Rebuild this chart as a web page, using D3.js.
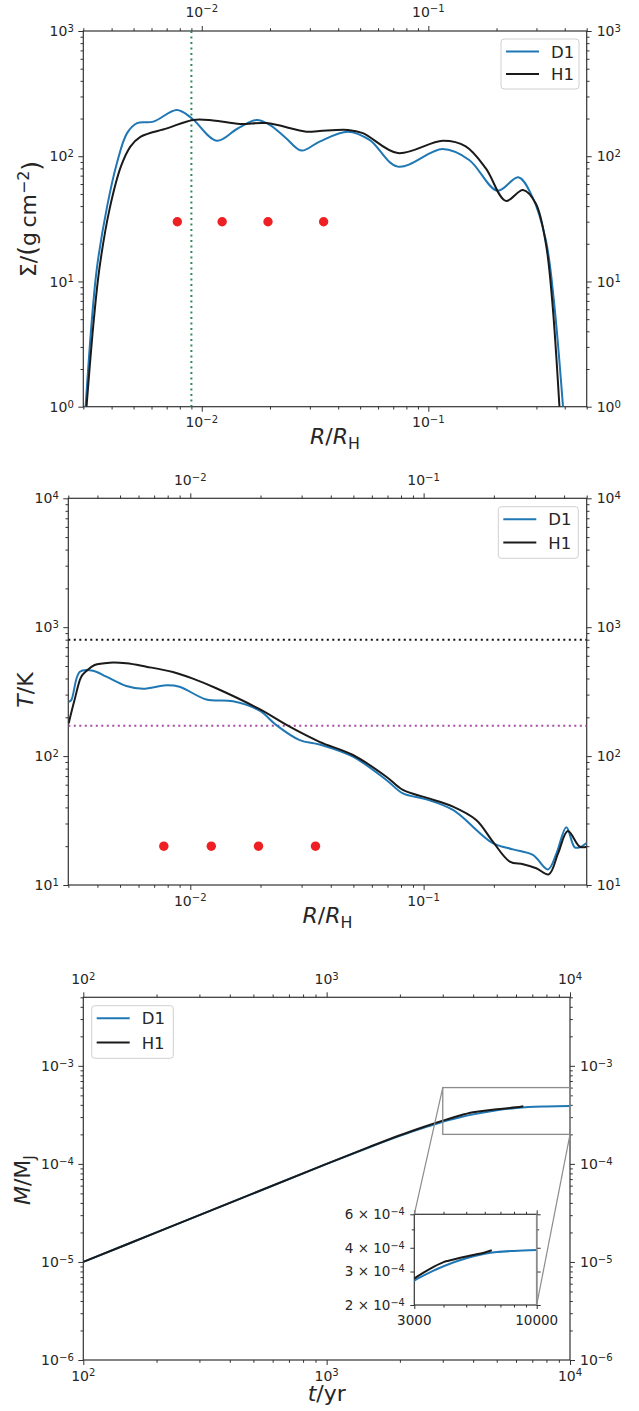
<!DOCTYPE html>
<html>
<head>
<meta charset="utf-8">
<script src="https://cdn.jsdelivr.net/npm/d3@7"></script>
<style>
  body { margin: 0; background: #fff; }
  svg { display: block; }
  text { font-family: "DejaVu Sans", sans-serif; fill: #262626; }
  .tick line { stroke: #333; }
  .domain { display: none; }
</style>
</head>
<body>
<svg id="fig" width="639" height="1411"></svg>
<script>
// ---- data ----

// surface density, R/R_H vs Sigma
const sigR_D1 = [0.00307, 0.00328, 0.00345, 0.00382, 0.00422, 0.00468, 0.00518, 0.00612, 0.00776, 0.00903, 0.01164, 0.0143, 0.01746, 0.01995, 0.0235, 0.02754, 0.0331, 0.0442, 0.055, 0.0733, 0.1157, 0.1514, 0.2018, 0.2495, 0.2875, 0.330, 0.358, 0.393];
const sig_D1  = [1, 5.2, 13.1, 39.6, 88, 153, 184, 189, 234, 201, 133, 165, 195, 178, 140, 111, 131, 157, 135, 82.6, 114, 93.4, 53, 68, 47.6, 21.4, 7.1, 1];
const sigR_H1 = [0.0031, 0.00334, 0.00354, 0.00392, 0.00441, 0.00485, 0.00536, 0.00702, 0.00918, 0.01124, 0.01475, 0.01931, 0.02899, 0.0331, 0.0442, 0.0514, 0.0733, 0.1157, 0.1462, 0.1794, 0.2198, 0.2618, 0.298, 0.330, 0.352, 0.379];
const sig_H1  = [1, 5, 13, 38, 84, 120, 143, 167, 195, 193, 181, 184, 157, 159, 162, 153, 106, 133, 120, 80, 44, 53.8, 42, 20.2, 7.1, 1];

// temperature, R/R_H vs T
const tR_D1 = [0.00301, 0.00309, 0.00336, 0.00383, 0.00437, 0.00532, 0.00627, 0.00789, 0.00899, 0.01172, 0.01524, 0.01982, 0.02337, 0.02944, 0.0358, 0.0498, 0.0692, 0.0815, 0.1027, 0.1336, 0.198, 0.2415, 0.294, 0.341, 0.371, 0.409, 0.444, 0.467, 0.5];
const temp_D1 = [264, 272, 451, 460, 413, 350, 333, 354, 345, 275, 266, 225, 174, 133, 123, 98.9, 65.3, 51.4, 46.2, 38.2, 21.1, 18.9, 17.1, 13.2, 17.6, 28.1, 19.6, 19.6, 21.3];
const tR_H1 = [0.00301, 0.00319, 0.00341, 0.0036, 0.00389, 0.00451, 0.00532, 0.00648, 0.00842, 0.01026, 0.01292, 0.01982, 0.02666, 0.0358, 0.0498, 0.0692, 0.0815, 0.1027, 0.1336, 0.168, 0.198, 0.234, 0.267, 0.304, 0.344, 0.377, 0.415, 0.467, 0.5];
const temp_H1 = [179, 272, 413, 460, 509, 531, 525, 494, 449, 399, 336, 231, 169, 129, 102, 69.2, 54.6, 47.6, 40.5, 31.9, 21.7, 15.2, 14.5, 13.5, 12.1, 17.6, 26.2, 19.8, 19.8];

// markers and reference levels
const dotsR_sig = [0.0078, 0.0123, 0.0196, 0.0345];
const dotSig = 30;
const dotsR_T = [0.0077, 0.0123, 0.0196, 0.0344];
const dotT = 20;
const rLine = 0.009;
const tLineHigh = 800;
const tLineLow = 172;

// planet mass, t/yr vs M/M_J
const mT_D1 = [100, 200, 500, 1000, 1500, 2000, 2500, 3000, 3500, 4000, 5000, 6000, 6750, 8000, 10000];
const mass_D1 = [1e-5, 2e-5, 5e-5, 1e-4, 1.48e-4, 1.93e-4, 2.33e-4, 2.69e-4, 2.97e-4, 3.2e-4, 3.52e-4, 3.72e-4, 3.8e-4, 3.85e-4, 3.89e-4];
const mT_H1 = [100, 200, 500, 1000, 1500, 2000, 2500, 3000, 3500, 4000, 4200, 5000, 6000, 6430];
const mass_H1 = [1e-5, 2e-5, 5e-5, 1e-4, 1.49e-4, 1.96e-4, 2.38e-4, 2.76e-4, 3.1e-4, 3.36e-4, 3.42e-4, 3.6e-4, 3.78e-4, 3.88e-4];

// zoom window of the inset
const zoomT = [3000, 10000];
const zoomM = [2e-4, 6e-4];

const series = ["D1", "H1"];
const colors = { D1: "#1f77b4", H1: "#1a1a1a" };

// ---- helpers ----
const svg = d3.select("#fig");
const sup = v => (v < 0 ? "\u2212" + (-v) : "" + v);

function powLabel(sel, exp, mant) {
  if (mant) sel.append("tspan").text(mant + " \u00d7 ");
  sel.append("tspan").text("10");
  sel.append("tspan").attr("dy", "-0.42em").attr("font-size", "0.72em").text(sup(exp));
}

function decadeMinors(lo, hi) {
  const out = [];
  for (let e = Math.floor(Math.log10(lo)); e <= Math.ceil(Math.log10(hi)); e++) {
    for (let k = 2; k <= 9; k++) {
      const v = k * Math.pow(10, e);
      if (v >= lo * 0.999 && v <= hi * 1.001) out.push(+v.toPrecision(3));
    }
  }
  return out;
}

// draws a log-log box with ticks on all 4 sides and labels on all 4 sides
function logPanel(o) {
  const g = svg.append("g");
  const x = d3.scaleLog().domain(o.xDom).range([o.left, o.right]);
  const y = d3.scaleLog().domain(o.yDom).range([o.bottom, o.top]);
  const fs = o.fs || 14;
  const ticks = (axisFn, pos, scale, majors, minors) => {
    g.append("g").attr("transform", pos)
      .call(axisFn(scale).tickValues(majors).tickSize(o.major || 5).tickFormat(() => ""));
    g.append("g").attr("transform", pos)
      .call(axisFn(scale).tickValues(minors).tickSize(o.minor || 2.8).tickFormat(() => ""));
  };
  ticks(d3.axisBottom, `translate(0,${o.bottom})`, x, o.xMaj, o.xMin);
  ticks(d3.axisTop, `translate(0,${o.top})`, x, o.xMaj, o.xMin);
  ticks(d3.axisLeft, `translate(${o.left},0)`, y, o.yMaj, o.yMin);
  ticks(d3.axisRight, `translate(${o.right},0)`, y, o.yMaj, o.yMin);
  g.selectAll(".tick line").attr("stroke", "#333").attr("stroke-width", 1);

  // frame
  g.append("rect").attr("x", o.left).attr("y", o.top)
    .attr("width", o.right - o.left).attr("height", o.bottom - o.top)
    .attr("fill", "none").attr("stroke", o.frame || "#333").attr("stroke-width", 1.2);

  const lab = g.append("g").attr("font-size", fs);
  const xf = o.xFmt || (v => [Math.round(Math.log10(v))]);
  const yf = o.yFmt || (v => [Math.round(Math.log10(v))]);
  o.xMaj.forEach(v => {
    if (o.xPlain) {
      lab.append("text").attr("x", x(v)).attr("y", o.bottom + o.xBelow).attr("text-anchor", "middle").text(v);
    } else {
      [[o.bottom + o.xBelow], o.topLabels === false ? [] : [o.top - o.xAbove]].forEach(arr => arr.forEach(yy => {
        const t = lab.append("text").attr("x", x(v)).attr("y", yy).attr("text-anchor", "middle");
        powLabel(t, ...xf(v));
      }));
    }
  });
  o.yMaj.forEach(v => {
    const t = lab.append("text").attr("x", o.left - 9.5).attr("y", y(v) + fs * 0.36).attr("text-anchor", "end");
    powLabel(t, ...yf(v));
    if (o.rightLabels !== false) {
      const r = lab.append("text").attr("x", o.right + 10).attr("y", y(v) + fs * 0.36);
      powLabel(r, ...yf(v));
    }
  });

  const clipId = "clip" + Math.round(o.top);
  svg.append("clipPath").attr("id", clipId).append("rect")
    .attr("x", o.left).attr("y", o.top).attr("width", o.right - o.left).attr("height", o.bottom - o.top);
  const plot = svg.append("g").attr("clip-path", `url(#${clipId})`);
  return { g, x, y, plot };
}

function drawLine(p, xs, ys, color, w) {
  const line = d3.line().x(d => p.x(d[0])).y(d => p.y(d[1])).curve(d3.curveCatmullRom.alpha(0.5));
  p.plot.append("path").datum(xs.map((v, i) => [v, ys[i]]))
    .attr("d", line).attr("fill", "none").attr("stroke", color)
    .attr("stroke-width", w || 2).attr("stroke-linejoin", "round");
}

function legend(x0, y0, w, h, rowGap) {
  const g = svg.append("g");
  g.append("rect").attr("x", x0).attr("y", y0).attr("width", w).attr("height", h).attr("rx", 3)
    .attr("fill", "#fff").attr("fill-opacity", 0.85).attr("stroke", "#d0d0d0");
  series.forEach((s, i) => {
    const yy = y0 + 12.5 + i * rowGap;
    g.append("line").attr("x1", x0 + 5).attr("x2", x0 + 38).attr("y1", yy).attr("y2", yy)
      .attr("stroke", colors[s]).attr("stroke-width", 2);
    g.append("text").attr("x", x0 + 50).attr("y", yy + 6).attr("font-size", 16.5).text(s);
  });
}

function ylabel(x, y, parts) {
  const t = svg.append("text").attr("transform", `translate(${x},${y}) rotate(-90)`)
    .attr("text-anchor", "middle").attr("font-size", 22);
  parts(t);
}
function xlabel(x, y, parts) {
  const t = svg.append("text").attr("x", x).attr("y", y).attr("text-anchor", "middle").attr("font-size", 22);
  parts(t);
}
const rOverRH = t => {
  t.append("tspan").attr("font-style", "italic").text("R");
  t.append("tspan").text("/");
  t.append("tspan").attr("font-style", "italic").text("R");
  t.append("tspan").attr("dy", "0.3em").attr("font-size", "0.72em").text("H");
};

// ---- panel 1: surface density ----
const p1 = logPanel({
  left: 83.3, right: 586.7, top: 31, bottom: 406.7,
  xDom: [0.003, 0.5], yDom: [1, 1000],
  xMaj: [0.01, 0.1], xMin: decadeMinors(0.003, 0.5),
  yMaj: [1, 10, 100, 1000], yMin: decadeMinors(1, 1000),
  xBelow: 20.5, xAbove: 14.3
});
p1.plot.append("line").attr("x1", p1.x(rLine)).attr("x2", p1.x(rLine))
  .attr("y1", p1.y(1000)).attr("y2", p1.y(1))
  .attr("stroke", "#2e8b57").attr("stroke-width", 2).attr("stroke-dasharray", "2,3.5");
drawLine(p1, sigR_D1, sig_D1, colors.D1);
drawLine(p1, sigR_H1, sig_H1, colors.H1);
p1.plot.selectAll("circle.d").data(dotsR_sig).join("circle")
  .attr("cx", d => p1.x(d)).attr("cy", p1.y(dotSig)).attr("r", 4.7).attr("fill", "#ee2024");
legend(501, 39, 78, 50, 22.5);
ylabel(36, 219, t => {
  t.append("tspan").text("\u03a3/");
  t.append("tspan").attr("font-size", "1.15em").text("(");
  t.append("tspan").text("g\u2009cm");
  t.append("tspan").attr("dy", "-0.45em").attr("font-size", "0.72em").text("\u22122");
  t.append("tspan").attr("dy", "0.45em").attr("font-size", "1.15em").text(")");
});
xlabel(335, 444, rOverRH);

// ---- panel 2: temperature ----
const p2 = logPanel({
  left: 68.3, right: 586.7, top: 498.3, bottom: 885,
  xDom: [0.003, 0.5], yDom: [10, 10000],
  xMaj: [0.01, 0.1], xMin: decadeMinors(0.003, 0.5),
  yMaj: [10, 100, 1000, 10000], yMin: decadeMinors(10, 10000),
  xBelow: 20.5, xAbove: 13.5
});
[[tLineHigh, "#111"], [tLineLow, "#a64ca6"]].forEach(([v, c]) => {
  p2.plot.append("line").attr("x1", p2.x(0.003)).attr("x2", p2.x(0.5))
    .attr("y1", p2.y(v)).attr("y2", p2.y(v))
    .attr("stroke", c).attr("stroke-width", 2).attr("stroke-dasharray", "2,3.5");
});
drawLine(p2, tR_D1, temp_D1, colors.D1);
drawLine(p2, tR_H1, temp_H1, colors.H1);
p2.plot.selectAll("circle.d").data(dotsR_T).join("circle")
  .attr("cx", d => p2.x(d)).attr("cy", p2.y(dotT)).attr("r", 4.7).attr("fill", "#ee2024");
legend(498.3, 506.7, 80, 51.6, 23.4);
ylabel(33, 690, t => {
  t.append("tspan").attr("font-style", "italic").text("T");
  t.append("tspan").text("/K");
});
xlabel(327.5, 923, rOverRH);

// ---- panel 3: mass growth ----
const p3 = logPanel({
  left: 83.3, right: 570, top: 997.3, bottom: 1360,
  xDom: [100, 10000], yDom: [1e-6, 5e-3],
  xMaj: [100, 1000, 10000], xMin: decadeMinors(100, 10000),
  yMaj: [1e-6, 1e-5, 1e-4, 1e-3], yMin: decadeMinors(1e-6, 5e-3),
  xBelow: 20.5, xAbove: 13
});
drawLine(p3, mT_D1, mass_D1, colors.D1);
drawLine(p3, mT_H1, mass_H1, colors.H1);
legend(91.7, 1005.7, 81.6, 52.6, 24.3);
ylabel(30, 1180, t => {
  t.append("tspan").attr("font-style", "italic").text("M");
  t.append("tspan").text("/M");
  t.append("tspan").attr("dy", "0.3em").attr("font-size", "0.72em").text("J");
});
xlabel(326.7, 1401, t => {
  t.append("tspan").attr("font-style", "italic").text("t");
  t.append("tspan").text("/yr");
});

// zoom rectangle on the main axes
const zx0 = p3.x(zoomT[0]), zx1 = p3.x(zoomT[1]), zy0 = p3.y(zoomM[1]), zy1 = p3.y(zoomM[0]);
svg.append("rect").attr("x", zx0).attr("y", zy0).attr("width", zx1 - zx0).attr("height", zy1 - zy0)
  .attr("fill", "none").attr("stroke", "#8c8c8c").attr("stroke-width", 1.3);

// inset
const inset = logPanel({
  left: 414.3, right: 536.7, top: 1214.3, bottom: 1305,
  xDom: zoomT, yDom: zoomM,
  xMaj: zoomT, xMin: [4000, 5000, 6000, 7000, 8000, 9000],
  yMaj: [2e-4, 3e-4, 4e-4, 6e-4], yMin: [5e-4],
  xPlain: true, rightLabels: false, topLabels: false,
  yFmt: v => [-4, Math.round(v * 1e4)],
  fs: 13.5, major: 4, minor: 2.5, xBelow: 19.5, xAbove: 0
});
svg.append("line").attr("x1", inset.x(zoomT[1])).attr("x2", inset.x(zoomT[1]))
  .attr("y1", inset.y(zoomM[0])).attr("y2", inset.y(zoomM[1])).attr("stroke", "#8c8c8c").attr("stroke-width", 1.6);
drawLine(inset, mT_D1, mass_D1, colors.D1);
drawLine(inset, mT_H1, mass_H1, colors.H1);

// connectors
[[zx0, zy0, inset.x(zoomT[0]), inset.y(zoomM[1])], [zx1, zy1, inset.x(zoomT[1]), inset.y(zoomM[0])]]
  .forEach(([a, b, c, d]) => {
    svg.append("line").attr("x1", a).attr("y1", b).attr("x2", c).attr("y2", d)
      .attr("stroke", "#8c8c8c").attr("stroke-width", 1.2);
  });
</script>
</body>
</html>
